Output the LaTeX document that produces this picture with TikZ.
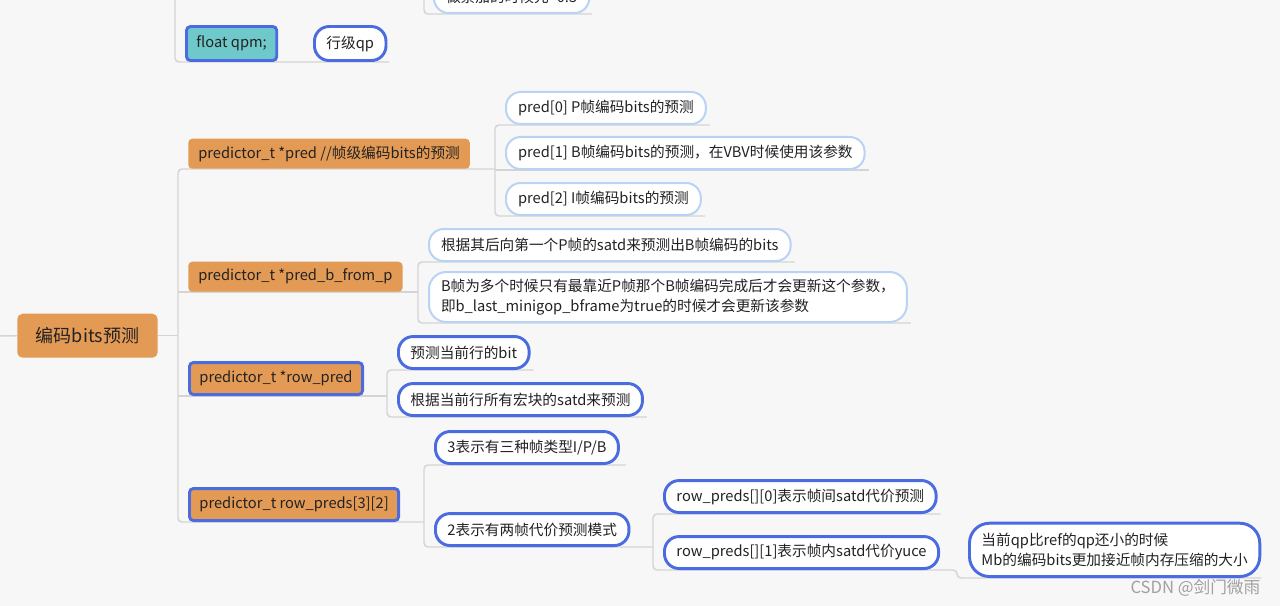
\documentclass[tikz,border=0pt]{standalone}
\usepackage{fontspec}
\setmainfont{Noto Sans CJK SC}
\usetikzlibrary{calc}
\pgfdeclarelayer{bg}
\pgfsetlayers{bg,main}
\definecolor{bgc}{HTML}{F7F7F7}
\definecolor{orgc}{HTML}{E39A55}
\definecolor{blu}{HTML}{4A6CE0}
\definecolor{lblu}{HTML}{B9D3F5}
\definecolor{lnc}{HTML}{D4D4D4}
\definecolor{tealc}{HTML}{6FC8C9}
\definecolor{txt}{HTML}{222222}
\definecolor{wmc}{HTML}{A0A0A0}
\tikzset{
  base/.style={anchor=south west, text=txt, font=\fontsize{11pt}{14.5pt}\selectfont},
  obox/.style={base, fill=orgc, rounded corners=3pt, minimum height=22.5pt, inner xsep=7.5pt, inner ysep=0pt},
  obb/.style={obox, draw=blu, line width=2.2pt, minimum height=24pt},
  pill/.style={base, fill=white, draw=lblu, line width=1.5pt, rounded corners=11pt, minimum height=24pt, inner xsep=9pt, inner ysep=0pt},
  bpill/.style={pill, draw=blu, line width=2.2pt},
  conn/.style={draw=lnc, line width=1.1pt, rounded corners=3pt},
}
\begin{document}
\begin{tikzpicture}[x=0.75pt,y=-0.75pt]
\useasboundingbox (0,0) rectangle (1280,606);
\clip (0,0) rectangle (1280,606);
% trunk x positions
\coordinate (t0) at (178,0);
\coordinate (tA) at (495,0);
\coordinate (tB) at (418,0);
\coordinate (tC) at (387,0);
\coordinate (tD) at (424,0);
\coordinate (tD1) at (653,0);
\coordinate (tE) at (957,0);
\coordinate (tF) at (175,0);
\coordinate (tT) at (424,0);
\coordinate (lft) at (0,336);

% nodes
\node[obox, minimum height=33pt, inner xsep=14pt, rounded corners=4pt, font=\fontsize{13.5pt}{16pt}\selectfont] (main) at (17,358) {编码bits预测};

\node[base, fill=tealc, draw=blu, line width=2.2pt, rounded corners=3pt, minimum height=25.5pt, inner xsep=7.5pt, inner ysep=0pt] (F) at (185,62) {float qpm;};
\node[bpill, minimum height=25.5pt] (F0) at (313,62) {行级qp};
\node[pill] (T) at (433,14) {做累加的时候先\textasciitilde 0.5};

\node[obox] (A) at (188,169) {predictor\_t *pred //帧级编码bits的预测};
\node[pill] (A0) at (505,125) {pred[0] P帧编码bits的预测};
\node[pill] (A1) at (505,170) {pred[1] B帧编码bits的预测，在VBV时候使用该参数};
\node[pill] (A2) at (505,216) {pred[2] I帧编码bits的预测};

\node[obox] (B) at (188,292) {predictor\_t *pred\_b\_from\_p};
\node[pill] (B0) at (428,262) {根据其后向第一个P帧的satd来预测出B帧编码的bits};
\node[pill, minimum height=37.5pt, align=left, rounded corners=13pt] (B1) at (428,323) {B帧为多个时候只有最靠近P帧那个B帧编码完成后才会更新这个参数，\\即b\_last\_minigop\_bframe为true的时候才会更新该参数};

\node[obb] (C) at (188,396) {predictor\_t *row\_pred};
\node[bpill] (C0) at (397,370) {预测当前行的bit};
\node[bpill] (C1) at (397,417) {根据当前行所有宏块的satd来预测};

\node[obb] (D) at (188,522) {predictor\_t row\_preds[3][2]};
\node[bpill] (D0) at (434,465) {3表示有三种帧类型I/P/B};
\node[bpill] (D1) at (434,547) {2表示有两帧代价预测模式};
\node[bpill] (D10) at (663,514) {row\_preds[][0]表示帧间satd代价预测};
\node[bpill] (D11) at (663,570) {row\_preds[][1]表示帧内satd代价yuce};
\node[bpill, minimum height=40pt, align=left, rounded corners=15pt] (D110) at (968,578) {当前qp比ref的qp还小的时候\\Mb的编码bits更加接近帧内存压缩的大小};

\node[anchor=east, text=wmc, font=\fontsize{12.5pt}{14pt}\selectfont] (wm) at (1265,588) {CSDN @剑门微雨};

% connectors
\begin{pgfonlayer}{bg}
\fill[bgc] (0,0) rectangle (1280,606);
\draw[conn] (lft) -- (main.west);
\draw[conn] (main.east) -- (main.east -| t0);
\draw[conn] (A.south -| tA) -- (A.south -| t0) -- (D.south -| t0) -- (D.south -| tD);
\draw[conn] (B.south -| t0) -- (B.south -| tB);
\draw[conn] (C.south -| t0) -- (C.south -| tC);
% A
\draw[conn] ($(A0.south east)+(3,0)$) -- (A0.south -| tA) -- (A2.south -| tA) -- ($(A2.south east)+(3,0)$);
\draw[conn] (A1.south -| tA) -- ($(A1.south east)+(3,0)$);
% B
\draw[conn] ($(B0.south east)+(3,0)$) -- (B0.south -| tB) -- (B1.south -| tB) -- ($(B1.south east)+(3,0)$);
% C
\draw[conn] ($(C0.south east)+(3,0)$) -- (C0.south -| tC) -- (C1.south -| tC) -- ($(C1.south east)+(3,0)$);
% D
\draw[conn] ($(D0.south east)+(6,0)$) -- (D0.south -| tD) -- (D1.south -| tD) -- (D1.south -| tD1);
\draw[conn] ($(D10.south east)+(3,0)$) -- (D10.south -| tD1) -- (D11.south -| tD1) -- (D11.south -| tE) -- (D110.south -| tE) -- (D110.south east);
% top
\draw[conn] (tF) -- (F.south -| tF) -- ($(F0.south east)+(2,0)$);
\draw[conn] (tT) -- (T.south -| tT) -- ($(T.south east)+(2,0)$);
\end{pgfonlayer}
\end{tikzpicture}
\end{document}
